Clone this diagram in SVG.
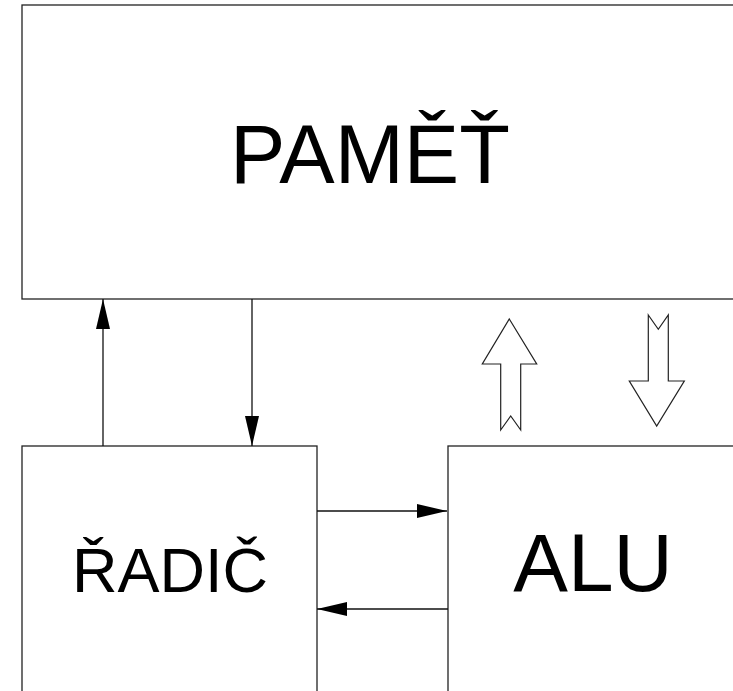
<svg xmlns="http://www.w3.org/2000/svg" width="733" height="691" viewBox="0 0 733 691">
<style>
.box{fill:#fff;stroke:#222;stroke-width:1.3}
.lbl{font-family:"Liberation Sans",Arial,sans-serif;fill:#000;text-anchor:middle}
.con{stroke:#111;stroke-width:1.3;fill:none}
.fat{fill:#fff;stroke:#222;stroke-width:1.2;stroke-linejoin:miter}
</style>
<defs>
<marker id="ah" viewBox="0 0 30 14" refX="30" refY="7" markerWidth="30" markerHeight="14" markerUnits="userSpaceOnUse" orient="auto">
<path d="M0,0 L30,7 L0,14 Z" fill="#000"/>
</marker>
</defs>
<rect width="733" height="691" fill="#fff"/>
<g id="pamet">
<rect class="box" x="22" y="5" width="720" height="294"/>
<text class="lbl" x="370" y="183" font-size="83">PAMĚŤ</text>
</g>
<g id="radic">
<rect class="box" x="22" y="446" width="295" height="260"/>
<text class="lbl" x="170" y="592" font-size="63">ŘADIČ</text>
</g>
<g id="alu">
<rect class="box" x="448" y="446" width="300" height="260"/>
<text class="lbl" x="593" y="591" font-size="82">ALU</text>
</g>
<g id="connectors">
<line class="con" x1="103" y1="446" x2="103" y2="299" marker-end="url(#ah)"/>
<line class="con" x1="252" y1="299" x2="252" y2="446" marker-end="url(#ah)"/>
<line class="con" x1="317" y1="511" x2="447" y2="511" marker-end="url(#ah)"/>
<line class="con" x1="448" y1="609" x2="317" y2="609" marker-end="url(#ah)"/>
<path class="fat" d="M509.3,319 L536.7,364 L520.7,364 L520.7,430 L510.7,416 L500.7,430 L500.7,364 L482.3,364 Z"/>
<path class="fat" d="M648.3,315 L658.3,329.3 L668.3,315 L668.3,381 L684.3,381 L656.7,426 L629.3,381 L648.3,381 Z"/>
</g>
</svg>
